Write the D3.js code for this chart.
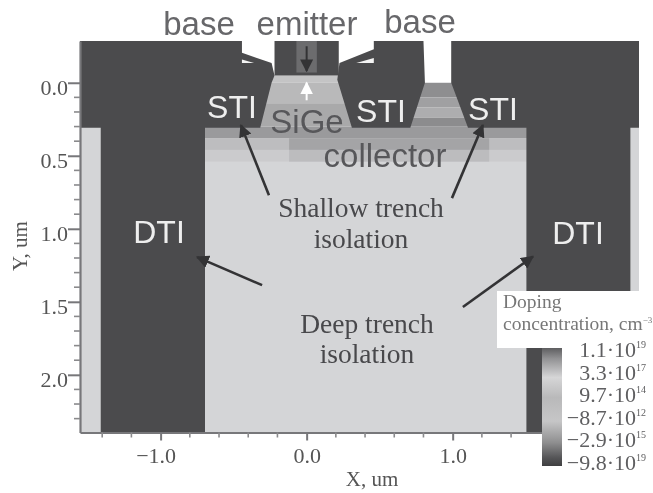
<!DOCTYPE html>
<html>
<head>
<meta charset="utf-8">
<script src="https://cdn.jsdelivr.net/npm/d3@7"></script>
<style>
  html, body { margin: 0; background: #fff; }
  svg { display: block; filter: blur(0.7px); }
  .serif { font-family: "Liberation Serif", serif; }
  .sans { font-family: "Liberation Sans", sans-serif; }
</style>
</head>
<body>
<div class="content"></div>
<script>
// all geometry in um
var xDomain = [-1.552, 2.276];
var yDomain = [-0.286, 2.395];
var xMajor = [-1.0, 0.0, 1.0];
var yMajor = [0.0, 0.5, 1.0, 1.5, 2.0];
var xMinor = [-1.4, -1.2, -0.8, -0.6, -0.4, -0.2, 0.2, 0.4, 0.6, 0.8, 1.2, 1.4];
var yMinor = [0.1, 0.2, 0.3, 0.4, 0.6, 0.7, 0.8, 0.9, 1.1, 1.2, 1.3, 1.4, 1.6, 1.7, 1.8, 1.9, 2.1, 2.2, 2.3];

// doping bands: [x0, x1, y0, y1, grey]
var collectorBands = [
  [-1.552, 2.276, 0.30, 2.395, "#d4d5d7"],
  [-0.70, 1.51, 0.30, 0.38, "#9a9a9c"],
  [-0.70, 1.51, 0.38, 0.46, "#bdbdbf"],
  [-0.12, 1.25, 0.38, 0.46, "#a4a4a6"],
  [-0.70, 1.51, 0.46, 0.54, "#cbcbcd"],
  [-0.12, 1.25, 0.46, 0.54, "#bcbcbe"]
];
var sigeBands = [
  [-0.33, 0.33, -0.05, 0.0, "#c4c4c5"],
  [-0.33, 0.33, 0.0, 0.14, "#b9b9ba"],
  [-0.33, 0.33, 0.14, 0.30, "#a9a9aa"]
];
var plugBands = [
  [0.70, 1.12, 0.0, 0.10, "#8e8e90"],
  [0.70, 1.12, 0.10, 0.17, "#a0a0a2"],
  [0.70, 1.12, 0.17, 0.24, "#adadaf"],
  [0.70, 1.12, 0.24, 0.30, "#8c8c8e"]
];

// oxide / metal outlines, [x, y]
var oxideLeft = [[-1.552,-0.286],[-0.443,-0.286],[-0.443,-0.205],[-0.24,-0.135],[-0.22,-0.05],[-0.24,-0.0],[-0.318,0.308],[-0.696,0.308],[-0.696,2.395],[-1.41,2.395],[-1.41,0.308],[-1.552,0.308]];
var oxideCentre = [[0.46,-0.286],[0.80,-0.286],[0.81,0.0],[0.71,0.308],[0.31,0.308],[0.21,-0.02],[0.225,-0.135],[0.46,-0.23]];
var oxideRight = [[0.99,-0.286],[2.276,-0.286],[2.276,0.308],[2.217,0.308],[2.217,2.395],[1.505,2.395],[1.505,0.308],[1.105,0.308],[0.99,0.0]];
var emitter = [[-0.22,-0.286],[0.22,-0.286],[0.22,-0.05],[-0.22,-0.05]];
var emitterCore = [[-0.07,-0.286],[0.07,-0.286],[0.07,-0.07],[-0.07,-0.07]];
var contactGaps = [
  [[-0.443,-0.16],[-0.36,-0.135],[-0.443,-0.135]],
  [[0.46,-0.17],[0.46,-0.135],[0.34,-0.135]]
];

var barStops = [
  [0, "#5e5e60"], [0.09, "#929294"], [0.25, "#d6d6d7"], [0.42, "#b9b9ba"],
  [0.62, "#c6c6c7"], [0.8, "#8f8f90"], [0.93, "#555557"], [1, "#3f3f41"]
];
var barMantissas = ["1.1·10", "3.3·10", "9.7·10", "−8.7·10", "−2.9·10", "−9.8·10"];
var barExponents = ["19", "17", "14", "12", "15", "19"];

var width = 653, height = 493;
var svg = d3.select(".content").append("svg").attr("width", width).attr("height", height);

var x = d3.scaleLinear().domain(xDomain).range([80, 639]);
var y = d3.scaleLinear().domain(yDomain).range([41, 432.5]);
var line = d3.line().x(function(d){ return x(d[0]); }).y(function(d){ return y(d[1]); });

function drawBands(bands) {
  bands.forEach(function(b) {
    svg.append("rect")
      .attr("x", x(b[0])).attr("y", y(b[2]))
      .attr("width", x(b[1]) - x(b[0])).attr("height", y(b[3]) - y(b[2]))
      .attr("fill", b[4]);
  });
}
drawBands(collectorBands);
drawBands(sigeBands);
drawBands(plugBands);

[oxideLeft, oxideCentre, oxideRight, emitter].forEach(function(p) {
  svg.append("path").attr("d", line(p) + "Z").attr("fill", "#4b4b4d");
});
svg.append("path").attr("d", line(emitterCore) + "Z").attr("fill", "#6c6c6e");
contactGaps.forEach(function(p) {
  svg.append("path").attr("d", line(p) + "Z").attr("fill", "#f4f4f4");
});

// axes
var xAxis = d3.axisBottom(x).tickValues(xMajor).tickSize(8).tickSizeOuter(0).tickFormat(function(d){ return d3.format(".1f")(d).replace("-", "−"); });
var yAxis = d3.axisLeft(y).tickValues(yMajor).tickSize(12).tickSizeOuter(0).tickPadding(0).tickFormat(d3.format(".1f"));
var gx = svg.append("g").attr("transform", "translate(0," + y(yDomain[1]) + ")").call(xAxis);
var gy = svg.append("g").attr("transform", "translate(" + x(xDomain[0]) + ",0)").call(yAxis);
gx.selectAll("text").attr("y", 15).attr("x", function(d){ return d < 0 ? -5 : 0; });
gy.selectAll("text").attr("dy", "0.52em");
[gx, gy].forEach(function(g) {
  g.select(".domain").attr("stroke", "#77777a").attr("stroke-width", 2.2);
  g.selectAll(".tick line").attr("stroke", "#77777a").attr("stroke-width", 2);
  g.selectAll("text").attr("class", "serif").attr("font-size", 22).attr("fill", "#555");
});
xMinor.forEach(function(v) {
  svg.append("line").attr("x1", x(v)).attr("x2", x(v)).attr("y1", y(yDomain[1])).attr("y2", y(yDomain[1]) + 5)
    .attr("stroke", "#8a8a8c").attr("stroke-width", 1.6);
});
yMinor.forEach(function(v) {
  svg.append("line").attr("x1", x(xDomain[0]) - 6).attr("x2", x(xDomain[0])).attr("y1", y(v)).attr("y2", y(v))
    .attr("stroke", "#8a8a8c").attr("stroke-width", 1.6);
});
svg.append("text").attr("class", "serif").attr("x", 372).attr("y", 486).attr("text-anchor", "middle")
  .attr("font-size", 21).attr("fill", "#555").text("X, um");
svg.append("text").attr("class", "serif").attr("transform", "translate(27,246) rotate(-90)").attr("text-anchor", "middle")
  .attr("font-size", 21).attr("fill", "#555").text("Y, um");

// arrows
var defs = svg.append("defs");
function marker(id, colour, size) {
  defs.append("marker").attr("id", id).attr("viewBox", "0 0 10 10").attr("refX", 9).attr("refY", 5)
    .attr("markerWidth", size).attr("markerHeight", size).attr("markerUnits", "userSpaceOnUse").attr("orient", "auto")
    .append("path").attr("d", "M0,0L10,5L0,10Z").attr("fill", colour);
}
marker("dark", "#333335", 13);
marker("white", "#ffffff", 13);
var pointers = [
  [[-0.258, 0.77], [-0.45, 0.29]],
  [[0.995, 0.79], [1.207, 0.29]],
  [[-0.305, 1.386], [-0.75, 1.194]],
  [[1.07, 1.536], [1.55, 1.19]]
];
pointers.forEach(function(p) {
  svg.append("path").attr("d", line(p)).attr("stroke", "#333335").attr("stroke-width", 2.6).attr("fill", "none").attr("marker-end", "url(#dark)");
});
var downArrow = [[0, -0.25], [0, -0.08]];
var upArrow = [[0, 0.12], [0, 0.0]];
svg.append("path").attr("d", line(downArrow)).attr("stroke", "#333335").attr("stroke-width", 2).attr("marker-end", "url(#dark)");
svg.append("path").attr("d", line(upArrow)).attr("stroke", "#fff").attr("stroke-width", 2).attr("marker-end", "url(#white)");

// region labels
function label(t, px, py, size, fill, cls) {
  svg.append("text").attr("class", cls).attr("x", px).attr("y", py).attr("text-anchor", "middle")
    .attr("font-size", size).attr("fill", fill).text(t);
}
label("base", 199, 35, 33, "#67676a", "sans");
label("emitter", 307, 35, 33, "#67676a", "sans");
label("base", 420, 33, 33, "#67676a", "sans");
label("STI", 232, 118, 32, "#eeeeee", "sans");
label("STI", 381, 122, 32, "#eeeeee", "sans");
label("STI", 493, 120, 32, "#eeeeee", "sans");
label("SiGe", 307, 133, 33, "#57575a", "sans");
label("collector", 385, 167, 33, "#57575a", "sans");
label("DTI", 159, 243, 32, "#eeeeee", "sans");
label("DTI", 578, 244, 32, "#eeeeee", "sans");
label("Shallow trench", 361, 217, 27.5, "#48484b", "serif");
label("isolation", 361, 248, 27.5, "#48484b", "serif");
label("Deep trench", 367, 333, 27.5, "#48484b", "serif");
label("isolation", 367, 363, 27.5, "#48484b", "serif");

// legend
svg.append("rect").attr("x", 497).attr("y", 291).attr("width", 156).attr("height", 57).attr("fill", "#fff");
var legendTitle = svg.append("text").attr("class", "serif").attr("font-size", 19.5).attr("fill", "#777");
legendTitle.append("tspan").attr("x", 503).attr("y", 308).text("Doping");
legendTitle.append("tspan").attr("x", 503).attr("y", 330).text("concentration, cm");
legendTitle.append("tspan").attr("dy", -7).attr("font-size", 9).text("−3");

var grad = defs.append("linearGradient").attr("id", "bar").attr("x1", 0).attr("x2", 0).attr("y1", 0).attr("y2", 1);
barStops.forEach(function(s) {
  grad.append("stop").attr("offset", s[0]).attr("stop-color", s[1]);
});
svg.append("rect").attr("x", 527).attr("y", 434).attr("width", 126).attr("height", 50).attr("fill", "#fff");
svg.append("rect").attr("x", 542).attr("y", 348).attr("width", 20).attr("height", 118).attr("fill", "url(#bar)");
svg.append("rect").attr("x", 562).attr("y", 348).attr("width", 91).attr("height", 130).attr("fill", "#fff");

var barScale = d3.scalePoint().domain(barMantissas).range([357, 470]);
barMantissas.forEach(function(m, i) {
  var t = svg.append("text").attr("class", "serif").attr("x", 646).attr("y", barScale(m))
    .attr("text-anchor", "end").attr("font-size", 22).attr("fill", "#5f5f61");
  t.append("tspan").text(m);
  t.append("tspan").attr("dy", -9).attr("font-size", 10).text(barExponents[i]);
});
</script>
</body>
</html>
